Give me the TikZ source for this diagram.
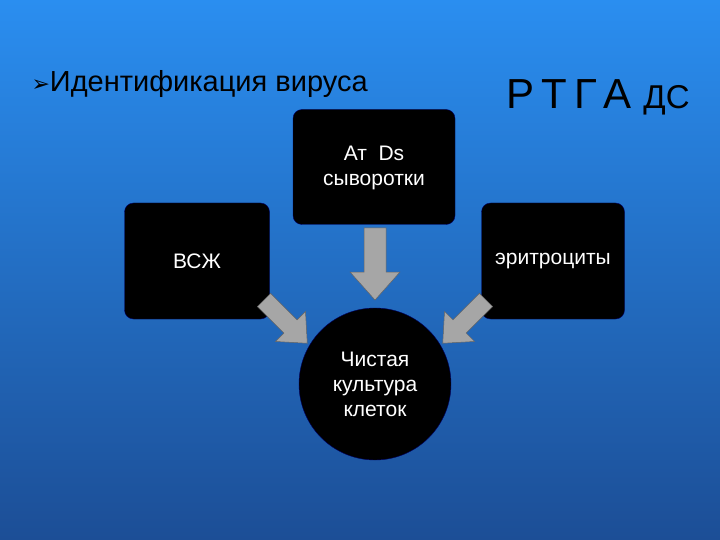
\documentclass[tikz,border=0pt]{standalone}
\usepackage{fontspec}
\setmainfont{Liberation Sans}
\newfontfamily\djfont{DejaVu Sans}
\usetikzlibrary{arrows.meta,shadings}
\definecolor{bgA}{HTML}{2A8EF0}
\definecolor{bgB}{HTML}{1C4E96}
\definecolor{arr}{HTML}{A6A6A6}
\tikzset{
  box/.style={fill=black, draw=black!60!blue, rounded corners=9pt, minimum width=146pt, minimum height=116pt, text=white, font=\fontsize{21}{25}\selectfont, align=center},
  blk/.style={draw=arr!60!black, line width=0.5pt, fill=arr},
  arrowshape/.pic={\path[blk] (-11,0) -- (11,0) -- (11,44) -- (25,44) -- (0,72) -- (-25,44) -- (-11,44) -- cycle;},
}
\begin{document}
\begin{tikzpicture}[x=1pt,y=-1pt]
\useasboundingbox (0,0) rectangle (720,540);
\shade[shading=axis, shading angle=135, top color=bgA, bottom color=bgB] (0,0) rectangle (720,540);
\node[anchor=west, font=\fontsize{29}{32}\selectfont] (title) at (28,84) {{\djfont\fontsize{22}{24}\selectfont ➢}Идентификация вируса};
\node[anchor=center, font=\fontsize{42}{44}\selectfont] (rtga) at (598,97) {Р\,Т\,Г\,А {\fontsize{33}{35}\selectfont ДС}};
\node[box, minimum width=162pt, minimum height=115pt] (top) at (374,167) {};
\node[text=white, font=\fontsize{21}{25}\selectfont, align=center] (toptext) at (374,168) {Ат\ \ Ds\\сыворотки};
\node[box, minimum width=145pt] (left) at (197,261) {ВСЖ};
\node[box, minimum width=143pt] (right) at (553,261) {эритроциты};
\node[circle, fill=black, draw=black!60!blue, minimum size=152pt, text=white, font=\fontsize{21}{25}\selectfont, align=center] (circ) at (375,384) {Чистая\\культура\\клеток};
\pic at (375,228) {arrowshape};
\pic[rotate=45, scale=0.85] at (264,300) {arrowshape};
\pic[rotate=-45, scale=0.85] at (486,300) {arrowshape};
\end{tikzpicture}
\end{document}
